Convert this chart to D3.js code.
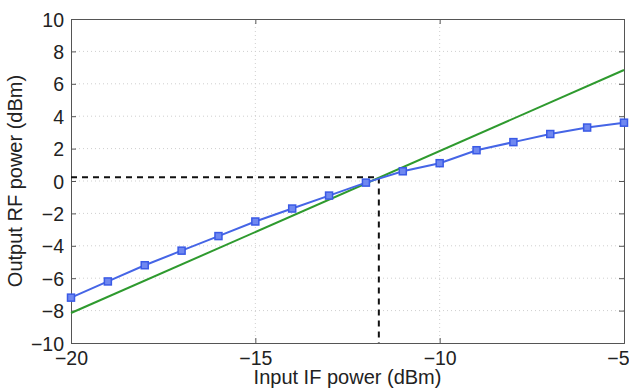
<!DOCTYPE html>
<html>
<head>
<meta charset="utf-8">
<script src="https://cdn.jsdelivr.net/npm/d3@7"></script>
<style>
  body { margin: 0; background: #fff; }
  svg { display: block; font-family: "Liberation Sans", Arial, sans-serif; }
</style>
</head>
<body>
<svg id="chart" width="629" height="392"></svg>
<script>
// measured output (blue squares)
const inputPower = [-20, -19, -18, -17, -16, -15, -14, -13, -12, -11, -10, -9, -8, -7, -6, -5];
const outputPower = [-7.2, -6.2, -5.2, -4.3, -3.4, -2.5, -1.7, -0.9, -0.1, 0.6, 1.1, 1.9, 2.4, 2.9, 3.3, 3.6];

// linear (ideal) line, end points
const idealX = [-20, -5];
const idealY = [-8.15, 6.85];

// intersect marker
const crossX = -11.65;
const crossY = 0.23;

const xTicks = [-20, -15, -10, -5];
const yTicks = [-10, -8, -6, -4, -2, 0, 2, 4, 6, 8, 10];

const W = 629, H = 392;
const margin = {top: 19, right: 5, bottom: 49, left: 71};
const iw = W - margin.left - margin.right;
const ih = H - margin.top - margin.bottom;

const svg = d3.select("#chart");
const g = svg.append("g").attr("transform", `translate(${margin.left},${margin.top})`);

const x = d3.scaleLinear().domain([-20, -5]).range([0, iw]);
const y = d3.scaleLinear().domain([-10, 10]).range([ih, 0]);

// grid
g.append("g").selectAll("line")
  .data(yTicks.slice(1, -1))
  .enter().append("line")
  .attr("x1", 0).attr("x2", iw)
  .attr("y1", d => y(d)).attr("y2", d => y(d))
  .attr("stroke", "#cfcfcf").attr("stroke-width", 1)
  .attr("stroke-dasharray", "1,3");
g.append("g").selectAll("line")
  .data(xTicks.slice(1, -1))
  .enter().append("line")
  .attr("y1", 0).attr("y2", ih)
  .attr("x1", d => x(d)).attr("x2", d => x(d))
  .attr("stroke", "#cfcfcf").attr("stroke-width", 1)
  .attr("stroke-dasharray", "1,3");

const fmt = d => d < 0 ? "\u2212" + Math.abs(d) : String(d);

// axes, ticks inward (bottom/left with labels, top/right mirrored)
const xAxis = g.append("g").attr("transform", `translate(0,${ih})`)
  .call(d3.axisBottom(x).tickValues(xTicks).tickSize(-5).tickPadding(8).tickFormat(fmt));
const yAxis = g.append("g")
  .call(d3.axisLeft(y).tickValues(yTicks).tickSize(-5).tickPadding(7).tickFormat(fmt));
const xTop = g.append("g")
  .call(d3.axisTop(x).tickValues(xTicks).tickSize(-5).tickFormat(""));
const yRight = g.append("g").attr("transform", `translate(${iw},0)`)
  .call(d3.axisRight(y).tickValues(yTicks).tickSize(-5).tickFormat(""));

[xAxis, yAxis, xTop, yRight].forEach(a => {
  a.select(".domain").attr("stroke", "#555");
  a.selectAll(".tick line").attr("stroke", "#555");
  a.selectAll("text").attr("font-size", 19.5).attr("fill", "#222")
    .attr("font-family", "'Liberation Sans', Arial, sans-serif");
});
yAxis.selectAll("text").attr("dy", "0.36em");
// last x label sits against the right edge of the picture
xAxis.selectAll(".tick text").filter(d => d === -5)
  .attr("text-anchor", "end").attr("x", W - margin.left - iw);

// dashed guide lines
g.append("path")
  .attr("d", d3.line()([[x(-20), y(crossY)], [x(crossX), y(crossY)], [x(crossX), y(-10)]]))
  .attr("fill", "none").attr("stroke", "#111").attr("stroke-width", 2)
  .attr("stroke-dasharray", "6,5");

// ideal line
g.append("path")
  .attr("d", d3.line().x(d => x(d[0])).y(d => y(d[1]))(idealX.map((v, i) => [v, idealY[i]])))
  .attr("fill", "none").attr("stroke", "#2e9a2e").attr("stroke-width", 2);

// measured line
const pts = inputPower.map((v, i) => [v, outputPower[i]]);
g.append("path")
  .attr("d", d3.line().x(d => x(d[0])).y(d => y(d[1]))(pts))
  .attr("fill", "none").attr("stroke", "#4565e6").attr("stroke-width", 2);
g.append("g").selectAll("rect")
  .data(pts)
  .enter().append("rect")
  .attr("x", d => x(d[0]) - 3.5).attr("y", d => y(d[1]) - 3.5)
  .attr("width", 7).attr("height", 7)
  .attr("fill", "#6f88f0").attr("stroke", "#3a5ae6").attr("stroke-width", 1.5);

// axis titles
svg.append("text")
  .attr("x", margin.left + iw / 2).attr("y", 384)
  .attr("text-anchor", "middle").attr("font-size", 20).attr("fill", "#222")
  .text("Input IF power (dBm)");
svg.append("text")
  .attr("transform", `translate(22,${margin.top + ih / 2}) rotate(-90)`)
  .attr("text-anchor", "middle").attr("font-size", 20).attr("fill", "#222")
  .text("Output RF power (dBm)");
</script>
</body>
</html>
